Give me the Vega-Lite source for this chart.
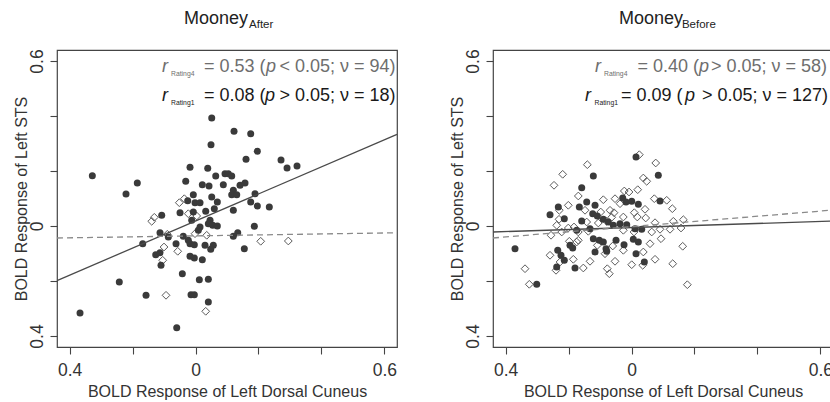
{
 "$schema": "https://vega.github.io/schema/vega-lite/v6.json",
 "background": "white",
 "padding": {"left": 12, "top": 9, "right": 0, "bottom": 0},
 "spacing": 47,
 "datasets": {
  "rows": [
   {"panel":"After","kind":"pt","rating":"R4","x":0.0515,"y":0.3927},
   {"panel":"After","kind":"pt","rating":"R4","x":0.1223,"y":0.3444},
   {"panel":"After","kind":"pt","rating":"R4","x":0.1753,"y":0.3356},
   {"panel":"After","kind":"pt","rating":"R4","x":0.0492,"y":0.2956},
   {"panel":"After","kind":"pt","rating":"R4","x":0.1963,"y":0.2716},
   {"panel":"After","kind":"pt","rating":"R4","x":0.1604,"y":0.2425},
   {"panel":"After","kind":"pt","rating":"R4","x":-0.3278,"y":0.1829},
   {"panel":"After","kind":"pt","rating":"R4","x":-0.1849,"y":0.1564},
   {"panel":"After","kind":"pt","rating":"R4","x":-0.2208,"y":0.1164},
   {"panel":"After","kind":"pt","rating":"R4","x":-0.0175,"y":0.2135},
   {"panel":"After","kind":"pt","rating":"R4","x":0.0388,"y":0.2098},
   {"panel":"After","kind":"pt","rating":"R4","x":-0.0311,"y":0.1625},
   {"panel":"After","kind":"pt","rating":"R4","x":0.0642,"y":0.1818},
   {"panel":"After","kind":"pt","rating":"R4","x":0.0937,"y":0.1902},
   {"panel":"After","kind":"pt","rating":"R4","x":0.1042,"y":0.1902},
   {"panel":"After","kind":"pt","rating":"R4","x":0.115,"y":0.1818},
   {"panel":"After","kind":"pt","rating":"R4","x":0.0216,"y":0.1502},
   {"panel":"After","kind":"pt","rating":"R4","x":0.0429,"y":0.1455},
   {"panel":"After","kind":"pt","rating":"R4","x":0.0883,"y":0.1502},
   {"panel":"After","kind":"pt","rating":"R4","x":0.1414,"y":0.148},
   {"panel":"After","kind":"pt","rating":"R4","x":0.1572,"y":0.1564},
   {"panel":"After","kind":"pt","rating":"R4","x":0.1201,"y":0.1298},
   {"panel":"After","kind":"pt","rating":"R4","x":-0.007,"y":0.1138},
   {"panel":"After","kind":"pt","rating":"R4","x":0.0515,"y":0.1055},
   {"panel":"After","kind":"pt","rating":"R4","x":0.115,"y":0.1138},
   {"panel":"After","kind":"pt","rating":"R4","x":0.1309,"y":0.1138},
   {"panel":"After","kind":"pt","rating":"R4","x":0.189,"y":0.1175},
   {"panel":"After","kind":"pt","rating":"R4","x":-0.0248,"y":0.092},
   {"panel":"After","kind":"pt","rating":"R4","x":-0.0016,"y":0.0847},
   {"panel":"After","kind":"pt","rating":"R4","x":0.0143,"y":0.0847},
   {"panel":"After","kind":"pt","rating":"R4","x":0.0693,"y":0.0873},
   {"panel":"After","kind":"pt","rating":"R4","x":0.1753,"y":0.0873},
   {"panel":"After","kind":"pt","rating":"R4","x":0.1963,"y":0.0727},
   {"panel":"After","kind":"pt","rating":"R4","x":0.2344,"y":0.0691},
   {"panel":"After","kind":"pt","rating":"R4","x":-0.0492,"y":0.0484},
   {"panel":"After","kind":"pt","rating":"R4","x":-0.007,"y":0.0509},
   {"panel":"After","kind":"pt","rating":"R4","x":0.0324,"y":0.0535},
   {"panel":"After","kind":"pt","rating":"R4","x":0.0597,"y":0.0629},
   {"panel":"After","kind":"pt","rating":"R4","x":0.1201,"y":0.0571},
   {"panel":"After","kind":"pt","rating":"R4","x":-0.1074,"y":0.0389},
   {"panel":"After","kind":"pt","rating":"R4","x":-0.0121,"y":0.0207},
   {"panel":"After","kind":"pt","rating":"R4","x":0.0143,"y":-0.0036},
   {"panel":"After","kind":"pt","rating":"R4","x":0.0089,"y":-0.0156},
   {"panel":"After","kind":"pt","rating":"R4","x":0.0461,"y":0.0207},
   {"panel":"After","kind":"pt","rating":"R4","x":0.0407,"y":0.0084},
   {"panel":"After","kind":"pt","rating":"R4","x":0.0546,"y":0.0025},
   {"panel":"After","kind":"pt","rating":"R4","x":0.0693,"y":0.0},
   {"panel":"After","kind":"pt","rating":"R4","x":-0.1128,"y":-0.0244},
   {"panel":"After","kind":"pt","rating":"R4","x":-0.0864,"y":-0.04},
   {"panel":"After","kind":"pt","rating":"R4","x":-0.0388,"y":-0.0375},
   {"panel":"After","kind":"pt","rating":"R4","x":-0.0229,"y":-0.052},
   {"panel":"After","kind":"pt","rating":"R4","x":-0.0175,"y":-0.0644},
   {"panel":"After","kind":"pt","rating":"R4","x":-0.0038,"y":-0.068},
   {"panel":"After","kind":"pt","rating":"R4","x":-0.1677,"y":-0.0644},
   {"panel":"After","kind":"pt","rating":"R4","x":-0.0619,"y":-0.0644},
   {"panel":"After","kind":"pt","rating":"R4","x":0.0302,"y":-0.0702},
   {"panel":"After","kind":"pt","rating":"R4","x":0.0565,"y":-0.0702},
   {"panel":"After","kind":"pt","rating":"R4","x":0.0483,"y":-0.0847},
   {"panel":"After","kind":"pt","rating":"R4","x":0.1201,"y":-0.0375},
   {"panel":"After","kind":"pt","rating":"R4","x":0.1341,"y":-0.0244},
   {"panel":"After","kind":"pt","rating":"R4","x":0.1868,"y":-0.0011},
   {"panel":"After","kind":"pt","rating":"R4","x":0.155,"y":-0.0825},
   {"panel":"After","kind":"pt","rating":"R4","x":-0.1264,"y":-0.1044},
   {"panel":"After","kind":"pt","rating":"R4","x":-0.1128,"y":-0.0971},
   {"panel":"After","kind":"pt","rating":"R4","x":-0.1096,"y":-0.1429},
   {"panel":"After","kind":"pt","rating":"R4","x":-0.0175,"y":-0.1102},
   {"panel":"After","kind":"pt","rating":"R4","x":-0.0038,"y":-0.1164},
   {"panel":"After","kind":"pt","rating":"R4","x":0.0216,"y":-0.1225},
   {"panel":"After","kind":"pt","rating":"R4","x":-0.0419,"y":-0.1735},
   {"panel":"After","kind":"pt","rating":"R4","x":-0.2421,"y":-0.2036},
   {"panel":"After","kind":"pt","rating":"R4","x":0.0121,"y":-0.1953},
   {"panel":"After","kind":"pt","rating":"R4","x":0.0407,"y":-0.1938},
   {"panel":"After","kind":"pt","rating":"R4","x":-0.1572,"y":-0.252},
   {"panel":"After","kind":"pt","rating":"R4","x":-0.0143,"y":-0.2498},
   {"panel":"After","kind":"pt","rating":"R4","x":-0.0038,"y":-0.2498},
   {"panel":"After","kind":"pt","rating":"R4","x":0.0407,"y":-0.2764},
   {"panel":"After","kind":"pt","rating":"R4","x":-0.3669,"y":-0.3164},
   {"panel":"After","kind":"pt","rating":"R4","x":-0.0597,"y":-0.3698},
   {"panel":"After","kind":"pt","rating":"R4","x":0.2716,"y":0.24},
   {"panel":"After","kind":"pt","rating":"R4","x":0.3224,"y":0.2182},
   {"panel":"After","kind":"pt","rating":"R4","x":0.2907,"y":0.2109},
   {"panel":"After","kind":"pt","rating":"R1","x":-0.0515,"y":0.0847},
   {"panel":"After","kind":"pt","rating":"R1","x":-0.0356,"y":0.0993},
   {"panel":"After","kind":"pt","rating":"R1","x":-0.0229,"y":0.0447},
   {"panel":"After","kind":"pt","rating":"R1","x":-0.1309,"y":0.0316},
   {"panel":"After","kind":"pt","rating":"R1","x":-0.1391,"y":0.0171},
   {"panel":"After","kind":"pt","rating":"R1","x":0.0038,"y":0.0364},
   {"panel":"After","kind":"pt","rating":"R1","x":-0.0896,"y":-0.0302},
   {"panel":"After","kind":"pt","rating":"R1","x":-0.0016,"y":-0.028},
   {"panel":"After","kind":"pt","rating":"R1","x":0.0356,"y":-0.0338},
   {"panel":"After","kind":"pt","rating":"R1","x":-0.1001,"y":-0.0764},
   {"panel":"After","kind":"pt","rating":"R1","x":-0.0565,"y":-0.092},
   {"panel":"After","kind":"pt","rating":"R1","x":-0.1042,"y":-0.1247},
   {"panel":"After","kind":"pt","rating":"R1","x":-0.0937,"y":-0.252},
   {"panel":"After","kind":"pt","rating":"R1","x":0.0324,"y":-0.3102},
   {"panel":"After","kind":"pt","rating":"R1","x":0.2071,"y":-0.0556},
   {"panel":"After","kind":"pt","rating":"R1","x":0.2948,"y":-0.0545},

   {"panel":"Before","kind":"pt","rating":"R1","x":0.0248,"y":0.2593},
   {"panel":"Before","kind":"pt","rating":"R1","x":0.0769,"y":0.2291},
   {"panel":"Before","kind":"pt","rating":"R1","x":-0.1404,"y":0.2229},
   {"panel":"Before","kind":"pt","rating":"R1","x":-0.2186,"y":0.188},
   {"panel":"Before","kind":"pt","rating":"R1","x":0.0375,"y":0.1745},
   {"panel":"Before","kind":"pt","rating":"R1","x":0.0483,"y":0.1625},
   {"panel":"Before","kind":"pt","rating":"R1","x":-0.2462,"y":0.148},
   {"panel":"Before","kind":"pt","rating":"R1","x":-0.0229,"y":0.1273},
   {"panel":"Before","kind":"pt","rating":"R1","x":-0.0079,"y":0.1236},
   {"panel":"Before","kind":"pt","rating":"R1","x":0.0197,"y":0.132},
   {"panel":"Before","kind":"pt","rating":"R1","x":-0.169,"y":0.1091},
   {"panel":"Before","kind":"pt","rating":"R1","x":-0.0896,"y":0.0956},
   {"panel":"Before","kind":"pt","rating":"R1","x":-0.0524,"y":0.0993},
   {"panel":"Before","kind":"pt","rating":"R1","x":-0.0365,"y":0.0811},
   {"panel":"Before","kind":"pt","rating":"R1","x":0.0724,"y":0.0993},
   {"panel":"Before","kind":"pt","rating":"R1","x":0.1118,"y":0.0935},
   {"panel":"Before","kind":"pt","rating":"R1","x":-0.2008,"y":0.0753},
   {"panel":"Before","kind":"pt","rating":"R1","x":-0.2294,"y":0.0571},
   {"panel":"Before","kind":"pt","rating":"R1","x":-0.1477,"y":0.0571},
   {"panel":"Before","kind":"pt","rating":"R1","x":-0.0978,"y":0.0509},
   {"panel":"Before","kind":"pt","rating":"R1","x":-0.0683,"y":0.0571},
   {"panel":"Before","kind":"pt","rating":"R1","x":-0.0556,"y":0.0484},
   {"panel":"Before","kind":"pt","rating":"R1","x":0.0089,"y":0.0484},
   {"panel":"Before","kind":"pt","rating":"R1","x":0.0429,"y":0.0607},
   {"panel":"Before","kind":"pt","rating":"R1","x":0.1296,"y":0.0629},
   {"panel":"Before","kind":"pt","rating":"R1","x":-0.2303,"y":0.0244},
   {"panel":"Before","kind":"pt","rating":"R1","x":-0.2376,"y":0.0025},
   {"panel":"Before","kind":"pt","rating":"R1","x":-0.2008,"y":-0.0073},
   {"panel":"Before","kind":"pt","rating":"R1","x":-0.1827,"y":-0.0036},
   {"panel":"Before","kind":"pt","rating":"R1","x":-0.1423,"y":0.0145},
   {"panel":"Before","kind":"pt","rating":"R1","x":-0.1055,"y":0.0109},
   {"panel":"Before","kind":"pt","rating":"R1","x":-0.0788,"y":0.0171},
   {"panel":"Before","kind":"pt","rating":"R1","x":-0.0629,"y":0.0316},
   {"panel":"Before","kind":"pt","rating":"R1","x":-0.026,"y":0.0327},
   {"panel":"Before","kind":"pt","rating":"R1","x":0.0184,"y":0.0327},
   {"panel":"Before","kind":"pt","rating":"R1","x":0.0451,"y":0.0291},
   {"panel":"Before","kind":"pt","rating":"R1","x":0.0747,"y":0.012},
   {"panel":"Before","kind":"pt","rating":"R1","x":0.1328,"y":0.0171},
   {"panel":"Before","kind":"pt","rating":"R1","x":0.1646,"y":0.0229},
   {"panel":"Before","kind":"pt","rating":"R1","x":-0.2557,"y":-0.0338},
   {"panel":"Before","kind":"pt","rating":"R1","x":-0.2217,"y":-0.0218},
   {"panel":"Before","kind":"pt","rating":"R1","x":-0.169,"y":-0.0218},
   {"panel":"Before","kind":"pt","rating":"R1","x":-0.1372,"y":-0.0193},
   {"panel":"Before","kind":"pt","rating":"R1","x":-0.026,"y":-0.0156},
   {"panel":"Before","kind":"pt","rating":"R1","x":0.0079,"y":-0.0218},
   {"panel":"Before","kind":"pt","rating":"R1","x":0.0642,"y":-0.0218},
   {"panel":"Before","kind":"pt","rating":"R1","x":0.0905,"y":-0.012},
   {"panel":"Before","kind":"pt","rating":"R1","x":0.1223,"y":-0.012},
   {"panel":"Before","kind":"pt","rating":"R1","x":0.1572,"y":-0.0073},
   {"panel":"Before","kind":"pt","rating":"R1","x":-0.1976,"y":-0.0556},
   {"panel":"Before","kind":"pt","rating":"R1","x":-0.1741,"y":-0.0582},
   {"panel":"Before","kind":"pt","rating":"R1","x":-0.169,"y":-0.052},
   {"panel":"Before","kind":"pt","rating":"R1","x":-0.1086,"y":-0.0702},
   {"panel":"Before","kind":"pt","rating":"R1","x":-0.0842,"y":-0.1007},
   {"panel":"Before","kind":"pt","rating":"R1","x":-0.0597,"y":-0.0727},
   {"panel":"Before","kind":"pt","rating":"R1","x":-0.026,"y":-0.0884},
   {"panel":"Before","kind":"pt","rating":"R1","x":0.0375,"y":-0.0945},
   {"panel":"Before","kind":"pt","rating":"R1","x":0.0588,"y":-0.0644},
   {"panel":"Before","kind":"pt","rating":"R1","x":0.0937,"y":-0.0462},
   {"panel":"Before","kind":"pt","rating":"R1","x":0.1626,"y":-0.0738},
   {"panel":"Before","kind":"pt","rating":"R1","x":-0.2589,"y":-0.1065},
   {"panel":"Before","kind":"pt","rating":"R1","x":-0.2271,"y":-0.1309},
   {"panel":"Before","kind":"pt","rating":"R1","x":-0.1849,"y":-0.1211},
   {"panel":"Before","kind":"pt","rating":"R1","x":-0.1318,"y":-0.1284},
   {"panel":"Before","kind":"pt","rating":"R1","x":-0.1531,"y":-0.1527},
   {"panel":"Before","kind":"pt","rating":"R1","x":-0.0769,"y":-0.1553},
   {"panel":"Before","kind":"pt","rating":"R1","x":-0.0705,"y":-0.1735},
   {"panel":"Before","kind":"pt","rating":"R1","x":-0.0524,"y":-0.1284},
   {"panel":"Before","kind":"pt","rating":"R1","x":0.0006,"y":-0.1407},
   {"panel":"Before","kind":"pt","rating":"R1","x":0.0356,"y":-0.1429},
   {"panel":"Before","kind":"pt","rating":"R1","x":0.0747,"y":-0.1211},
   {"panel":"Before","kind":"pt","rating":"R1","x":0.1309,"y":-0.1371},
   {"panel":"Before","kind":"pt","rating":"R1","x":-0.2398,"y":-0.1611},
   {"panel":"Before","kind":"pt","rating":"R1","x":-0.3383,"y":-0.1553},
   {"panel":"Before","kind":"pt","rating":"R1","x":-0.3247,"y":-0.212},
   {"panel":"Before","kind":"pt","rating":"R1","x":0.1773,"y":-0.2135},

   {"panel":"Before","kind":"pt","rating":"R4","x":0.0143,"y":0.2509},
   {"panel":"Before","kind":"pt","rating":"R4","x":0.0851,"y":0.1844},
   {"panel":"Before","kind":"pt","rating":"R4","x":-0.1213,"y":0.1818},
   {"panel":"Before","kind":"pt","rating":"R4","x":-0.1582,"y":0.1393},
   {"panel":"Before","kind":"pt","rating":"R4","x":-0.028,"y":0.1018},
   {"panel":"Before","kind":"pt","rating":"R4","x":-0.0175,"y":0.0873},
   {"panel":"Before","kind":"pt","rating":"R4","x":0.0006,"y":0.0898},
   {"panel":"Before","kind":"pt","rating":"R4","x":-0.1423,"y":0.0873},
   {"panel":"Before","kind":"pt","rating":"R4","x":-0.1159,"y":0.0753},
   {"panel":"Before","kind":"pt","rating":"R4","x":0.0216,"y":0.0789},
   {"panel":"Before","kind":"pt","rating":"R4","x":0.0905,"y":0.0909},
   {"panel":"Before","kind":"pt","rating":"R4","x":-0.2325,"y":0.0691},
   {"panel":"Before","kind":"pt","rating":"R4","x":-0.2589,"y":0.0411},
   {"panel":"Before","kind":"pt","rating":"R4","x":-0.1658,"y":0.0691},
   {"panel":"Before","kind":"pt","rating":"R4","x":-0.1233,"y":0.0447},
   {"panel":"Before","kind":"pt","rating":"R4","x":-0.1086,"y":0.0364},
   {"panel":"Before","kind":"pt","rating":"R4","x":-0.2135,"y":0.0265},
   {"panel":"Before","kind":"pt","rating":"R4","x":-0.1582,"y":0.0182},
   {"panel":"Before","kind":"pt","rating":"R4","x":-0.0896,"y":0.0244},
   {"panel":"Before","kind":"pt","rating":"R4","x":-0.0737,"y":0.0145},
   {"panel":"Before","kind":"pt","rating":"R4","x":-0.0578,"y":0.0025},
   {"panel":"Before","kind":"pt","rating":"R4","x":-0.0365,"y":0.0084},
   {"panel":"Before","kind":"pt","rating":"R4","x":-0.0152,"y":0.0047},
   {"panel":"Before","kind":"pt","rating":"R4","x":-0.1318,"y":-0.0098},
   {"panel":"Before","kind":"pt","rating":"R4","x":-0.1741,"y":-0.0156},
   {"panel":"Before","kind":"pt","rating":"R4","x":0.0111,"y":-0.0098},
   {"panel":"Before","kind":"pt","rating":"R4","x":0.0324,"y":-0.012},
   {"panel":"Before","kind":"pt","rating":"R4","x":-0.3701,"y":-0.0825},
   {"panel":"Before","kind":"pt","rating":"R4","x":-0.2344,"y":-0.0884},
   {"panel":"Before","kind":"pt","rating":"R4","x":-0.224,"y":-0.1065},
   {"panel":"Before","kind":"pt","rating":"R4","x":-0.1954,"y":-0.0702},
   {"panel":"Before","kind":"pt","rating":"R4","x":-0.1868,"y":-0.08},
   {"panel":"Before","kind":"pt","rating":"R4","x":-0.1213,"y":-0.0462},
   {"panel":"Before","kind":"pt","rating":"R4","x":-0.1023,"y":-0.052},
   {"panel":"Before","kind":"pt","rating":"R4","x":-0.0896,"y":-0.0582},
   {"panel":"Before","kind":"pt","rating":"R4","x":-0.1159,"y":-0.0945},
   {"panel":"Before","kind":"pt","rating":"R4","x":-0.081,"y":-0.0825},
   {"panel":"Before","kind":"pt","rating":"R4","x":-0.0788,"y":-0.092},
   {"panel":"Before","kind":"pt","rating":"R4","x":-0.0492,"y":-0.052},
   {"panel":"Before","kind":"pt","rating":"R4","x":-0.0238,"y":-0.068},
   {"panel":"Before","kind":"pt","rating":"R4","x":0.0057,"y":-0.0484},
   {"panel":"Before","kind":"pt","rating":"R4","x":0.0216,"y":-0.0582},
   {"panel":"Before","kind":"pt","rating":"R4","x":0.0143,"y":-0.1007},
   {"panel":"Before","kind":"pt","rating":"R4","x":0.0407,"y":-0.1309},
   {"panel":"Before","kind":"pt","rating":"R4","x":-0.2135,"y":-0.1247},
   {"panel":"Before","kind":"pt","rating":"R4","x":-0.2376,"y":-0.1491},
   {"panel":"Before","kind":"pt","rating":"R4","x":-0.1795,"y":-0.1527},
   {"panel":"Before","kind":"pt","rating":"R4","x":-0.3011,"y":-0.212},

   {"panel":"After","kind":"fit","rating":"R4","x":-0.44,"y":-0.1985},
   {"panel":"After","kind":"fit","rating":"R4","x":0.64,"y":0.333},
   {"panel":"After","kind":"fit","rating":"R1","x":-0.44,"y":-0.0436},
   {"panel":"After","kind":"fit","rating":"R1","x":0.64,"y":-0.0247},
   {"panel":"Before","kind":"fit","rating":"R4","x":-0.44,"y":-0.0218},
   {"panel":"Before","kind":"fit","rating":"R4","x":0.64,"y":0.018},
   {"panel":"Before","kind":"fit","rating":"R1","x":-0.44,"y":-0.0436},
   {"panel":"Before","kind":"fit","rating":"R1","x":0.64,"y":0.058},

   {"panel":"After","kind":"lbl","part":"r","line":"R4","text":"r","x":-0.1064,"y":0.56},
   {"panel":"After","kind":"lbl","part":"sub","line":"R4","text":"Rating4","x":-0.0778,"y":0.545},
   {"panel":"After","kind":"lbl","part":"eq","line":"R4","text":"= 0.53 (","x":0.027,"y":0.56},
   {"panel":"After","kind":"lbl","part":"p","line":"R4","text":"p","x":0.224,"y":0.56},
   {"panel":"After","kind":"lbl","part":"rest","line":"R4","text":"< 0.05; ν = 94)","x":0.6353,"y":0.56},
   {"panel":"After","kind":"lbl","part":"r","line":"R1","text":"r","x":-0.1064,"y":0.4545},
   {"panel":"After","kind":"lbl","part":"sub","line":"R1","text":"Rating1","x":-0.0778,"y":0.44},
   {"panel":"After","kind":"lbl","part":"eq","line":"R1","text":"= 0.08 (","x":0.027,"y":0.4545},
   {"panel":"After","kind":"lbl","part":"p","line":"R1","text":"p","x":0.2208,"y":0.4545},
   {"panel":"After","kind":"lbl","part":"rest","line":"R1","text":"> 0.05; ν = 18)","x":0.6353,"y":0.4545},
   {"panel":"After","kind":"lbl","part":"eq","line":"T","text":"Mooney","x":-0.0365,"y":0.7345},
   {"panel":"After","kind":"lbl","part":"tsub","line":"T","text":"After","x":0.17,"y":0.7211},

   {"panel":"Before","kind":"lbl","part":"r","line":"R4","text":"r","x":-0.1159,"y":0.56},
   {"panel":"Before","kind":"lbl","part":"sub","line":"R4","text":"Rating4","x":-0.0874,"y":0.545},
   {"panel":"Before","kind":"lbl","part":"eq","line":"R4","text":"= 0.40 (","x":0.0191,"y":0.56},
   {"panel":"Before","kind":"lbl","part":"p","line":"R4","text":"p","x":0.2144,"y":0.56},
   {"panel":"Before","kind":"lbl","part":"rest","line":"R4","text":"> 0.05; ν = 58)","x":0.621,"y":0.56},
   {"panel":"Before","kind":"lbl","part":"r","line":"R1","text":"r","x":-0.1477,"y":0.4545},
   {"panel":"Before","kind":"lbl","part":"sub","line":"R1","text":"Rating1","x":-0.1175,"y":0.44},
   {"panel":"Before","kind":"lbl","part":"eq","line":"R1","text":"= 0.09 (","x":-0.0334,"y":0.4545},
   {"panel":"Before","kind":"lbl","part":"p","line":"R1","text":"p","x":0.17,"y":0.4545},
   {"panel":"Before","kind":"lbl","part":"rest","line":"R1","text":"> 0.05; ν = 127)","x":0.6242,"y":0.4545},
   {"panel":"Before","kind":"lbl","part":"eq","line":"T","text":"Mooney","x":-0.0397,"y":0.7345},
   {"panel":"Before","kind":"lbl","part":"tsub","line":"T","text":"Before","x":0.16,"y":0.7211}
  ]
 },
 "hconcat": [
  {
   "width": 340, "height": 297,
   "data": {"name": "rows"},
   "transform": [{"filter": "datum.panel == 'After'"}],
   "encoding": {
    "x": {"field": "x", "type": "quantitative", "scale": {"domain": [-0.44, 0.64], "nice": false, "zero": false},
      "axis": {"values": [-0.4, -0.2, 0, 0.2, 0.4, 0.6], "labelExpr": "datum.value == 0 ? '0' : datum.value < -0.3 ? '0.4' : datum.value > 0.5 ? '0.6' : ''", "labelPadding": 7, "titlePadding": 5, "labelFlush": false, "labelOverlap": false},
      "title": "BOLD Response of Left Dorsal Cuneus"},
    "y": {"field": "y", "type": "quantitative", "scale": {"domain": [-0.44, 0.64], "nice": false, "zero": false},
      "axis": {"values": [-0.4, -0.2, 0, 0.2, 0.4, 0.6], "labelExpr": "datum.value == 0 ? '0' : datum.value < -0.3 ? '0.4' : datum.value > 0.5 ? '0.6' : ''", "labelAngle": 270, "labelAlign": "center", "labelBaseline": "bottom", "labelPadding": 3.5, "titlePadding": -1, "labelFlush": false, "labelOverlap": false},
      "title": "BOLD Response of Left STS"}
   },
   "layer": [
    {"transform": [{"filter": "datum.kind == 'pt' && datum.rating == 'R1'"}], "mark": {"type": "point", "shape": "diamond", "filled": false, "stroke": "#5a5a5a", "strokeWidth": 1, "size": 60, "opacity": 1}},
    {"transform": [{"filter": "datum.kind == 'pt' && datum.rating == 'R4'"}], "mark": {"type": "circle", "color": "#3a3a3a", "size": 49, "opacity": 1}},
    {"transform": [{"filter": "datum.kind == 'fit' && datum.rating == 'R4'"}], "mark": {"type": "line", "color": "#4a4a4a", "strokeWidth": 1.3}},
    {"transform": [{"filter": "datum.kind == 'fit' && datum.rating == 'R1'"}], "mark": {"type": "line", "color": "#8a8a8a", "strokeWidth": 1.3, "strokeDash": [6, 4]}},
    {"transform": [{"filter": "datum.kind == 'lbl' && (datum.part == 'r' || datum.part == 'p')"}], "mark": {"type": "text", "font": "Liberation Sans", "fontSize": 18, "fontStyle": "italic", "align": "left", "baseline": "alphabetic"},
     "encoding": {"text": {"field": "text"}, "color": {"field": "line", "scale": {"domain": ["R4", "R1", "T"], "range": ["#6e6e6e", "#1a1a1a", "#222222"]}, "legend": null}}},
    {"transform": [{"filter": "datum.kind == 'lbl' && datum.part == 'eq'"}], "mark": {"type": "text", "font": "Liberation Sans", "fontSize": 18, "align": "left", "baseline": "alphabetic"},
     "encoding": {"text": {"field": "text"}, "color": {"field": "line", "scale": {"domain": ["R4", "R1", "T"], "range": ["#6e6e6e", "#1a1a1a", "#222222"]}, "legend": null}}},
    {"transform": [{"filter": "datum.kind == 'lbl' && datum.part == 'rest'"}], "mark": {"type": "text", "font": "Liberation Sans", "fontSize": 18, "align": "right", "baseline": "alphabetic"},
     "encoding": {"text": {"field": "text"}, "color": {"field": "line", "scale": {"domain": ["R4", "R1", "T"], "range": ["#6e6e6e", "#1a1a1a", "#222222"]}, "legend": null}}},
    {"transform": [{"filter": "datum.kind == 'lbl' && datum.part == 'sub'"}], "mark": {"type": "text", "font": "Liberation Sans", "fontSize": 6.8, "align": "left", "baseline": "alphabetic"},
     "encoding": {"text": {"field": "text"}, "color": {"field": "line", "scale": {"domain": ["R4", "R1", "T"], "range": ["#6e6e6e", "#1a1a1a", "#222222"]}, "legend": null}}},
    {"transform": [{"filter": "datum.kind == 'lbl' && datum.part == 'tsub'"}], "mark": {"type": "text", "font": "Liberation Sans", "fontSize": 11.5, "align": "left", "baseline": "alphabetic"},
     "encoding": {"text": {"field": "text"}, "color": {"field": "line", "scale": {"domain": ["R4", "R1", "T"], "range": ["#6e6e6e", "#1a1a1a", "#222222"]}, "legend": null}}}
   ]
  },
  {
   "width": 340, "height": 297,
   "data": {"name": "rows"},
   "transform": [{"filter": "datum.panel == 'Before'"}],
   "encoding": {
    "x": {"field": "x", "type": "quantitative", "scale": {"domain": [-0.44, 0.64], "nice": false, "zero": false},
      "axis": {"values": [-0.4, -0.2, 0, 0.2, 0.4, 0.6], "labelExpr": "datum.value == 0 ? '0' : datum.value < -0.3 ? '0.4' : datum.value > 0.5 ? '0.6' : ''", "labelPadding": 7, "titlePadding": 5, "labelFlush": false, "labelOverlap": false},
      "title": "BOLD Response of Left Dorsal Cuneus"},
    "y": {"field": "y", "type": "quantitative", "scale": {"domain": [-0.44, 0.64], "nice": false, "zero": false},
      "axis": {"values": [-0.4, -0.2, 0, 0.2, 0.4, 0.6], "labelExpr": "datum.value == 0 ? '0' : datum.value < -0.3 ? '0.4' : datum.value > 0.5 ? '0.6' : ''", "labelAngle": 270, "labelAlign": "center", "labelBaseline": "bottom", "labelPadding": 3.5, "titlePadding": -1, "labelFlush": false, "labelOverlap": false},
      "title": "BOLD Response of Left STS"}
   },
   "layer": [
    {"transform": [{"filter": "datum.kind == 'pt' && datum.rating == 'R1'"}], "mark": {"type": "point", "shape": "diamond", "filled": false, "stroke": "#5a5a5a", "strokeWidth": 1, "size": 60, "opacity": 1}},
    {"transform": [{"filter": "datum.kind == 'pt' && datum.rating == 'R4'"}], "mark": {"type": "circle", "color": "#3a3a3a", "size": 49, "opacity": 1}},
    {"transform": [{"filter": "datum.kind == 'fit' && datum.rating == 'R4'"}], "mark": {"type": "line", "color": "#4a4a4a", "strokeWidth": 1.3}},
    {"transform": [{"filter": "datum.kind == 'fit' && datum.rating == 'R1'"}], "mark": {"type": "line", "color": "#8a8a8a", "strokeWidth": 1.3, "strokeDash": [6, 4]}},
    {"transform": [{"filter": "datum.kind == 'lbl' && (datum.part == 'r' || datum.part == 'p')"}], "mark": {"type": "text", "font": "Liberation Sans", "fontSize": 18, "fontStyle": "italic", "align": "left", "baseline": "alphabetic"},
     "encoding": {"text": {"field": "text"}, "color": {"field": "line", "scale": {"domain": ["R4", "R1", "T"], "range": ["#6e6e6e", "#1a1a1a", "#222222"]}, "legend": null}}},
    {"transform": [{"filter": "datum.kind == 'lbl' && datum.part == 'eq'"}], "mark": {"type": "text", "font": "Liberation Sans", "fontSize": 18, "align": "left", "baseline": "alphabetic"},
     "encoding": {"text": {"field": "text"}, "color": {"field": "line", "scale": {"domain": ["R4", "R1", "T"], "range": ["#6e6e6e", "#1a1a1a", "#222222"]}, "legend": null}}},
    {"transform": [{"filter": "datum.kind == 'lbl' && datum.part == 'rest'"}], "mark": {"type": "text", "font": "Liberation Sans", "fontSize": 18, "align": "right", "baseline": "alphabetic"},
     "encoding": {"text": {"field": "text"}, "color": {"field": "line", "scale": {"domain": ["R4", "R1", "T"], "range": ["#6e6e6e", "#1a1a1a", "#222222"]}, "legend": null}}},
    {"transform": [{"filter": "datum.kind == 'lbl' && datum.part == 'sub'"}], "mark": {"type": "text", "font": "Liberation Sans", "fontSize": 6.8, "align": "left", "baseline": "alphabetic"},
     "encoding": {"text": {"field": "text"}, "color": {"field": "line", "scale": {"domain": ["R4", "R1", "T"], "range": ["#6e6e6e", "#1a1a1a", "#222222"]}, "legend": null}}},
    {"transform": [{"filter": "datum.kind == 'lbl' && datum.part == 'tsub'"}], "mark": {"type": "text", "font": "Liberation Sans", "fontSize": 11.5, "align": "left", "baseline": "alphabetic"},
     "encoding": {"text": {"field": "text"}, "color": {"field": "line", "scale": {"domain": ["R4", "R1", "T"], "range": ["#6e6e6e", "#1a1a1a", "#222222"]}, "legend": null}}}
   ]
  }
 ],
 "config": {
  "view": {"stroke": "#444444", "strokeWidth": 1.2},
  "axis": {"grid": false, "domain": false, "tickColor": "#444444", "tickSize": 7, "tickWidth": 1.1,
   "labelFont": "Liberation Sans", "labelFontSize": 17.5, "labelColor": "#333333",
   "titleFont": "Liberation Sans", "titleFontSize": 16, "titleFontWeight": "normal", "titleColor": "#333333"}
 }
}
